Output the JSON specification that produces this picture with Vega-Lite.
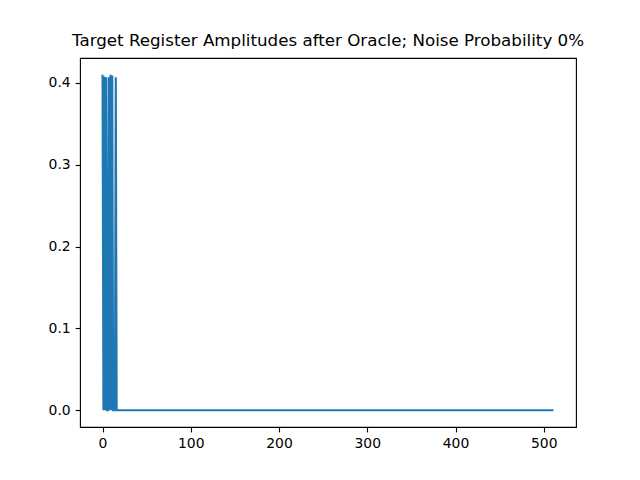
{
  "$schema": "https://vega.github.io/schema/vega-lite/v6.json",
  "width": 496,
  "height": 369,
  "autosize": "none",
  "padding": {"left": 80, "top": 58, "right": 64, "bottom": 53},
  "background": "white",
  "title": {
    "text": "Target Register Amplitudes after Oracle; Noise Probability 0%",
    "font": "DejaVu Sans",
    "fontSize": 16.7,
    "fontWeight": "normal",
    "color": "black",
    "anchor": "middle",
    "offset": 8
  },
  "data": {
    "values": [
      {"index": 0, "amplitude": 0.41},
      {"index": 1, "amplitude": 0.0},
      {"index": 2, "amplitude": 0.408},
      {"index": 3, "amplitude": 0.0},
      {"index": 4, "amplitude": 0.407},
      {"index": 5, "amplitude": 0.0},
      {"index": 6, "amplitude": 0.0},
      {"index": 7, "amplitude": 0.407},
      {"index": 8, "amplitude": 0.0},
      {"index": 9, "amplitude": 0.41},
      {"index": 10, "amplitude": 0.0},
      {"index": 11, "amplitude": 0.409},
      {"index": 12, "amplitude": 0.0},
      {"index": 13, "amplitude": 0.0},
      {"index": 14, "amplitude": 0.0},
      {"index": 15, "amplitude": 0.407},
      {"index": 16, "amplitude": 0.0},
      {"index": 17, "amplitude": 0.0},
      {"index": 18, "amplitude": 0.0},
      {"index": 19, "amplitude": 0.0},
      {"index": 20, "amplitude": 0.0},
      {"index": 511, "amplitude": 0.0}
    ]
  },
  "mark": {"type": "line", "color": "#1f77b4", "strokeWidth": 2.1, "clip": true},
  "encoding": {
    "x": {
      "field": "index",
      "type": "quantitative",
      "scale": {"domain": [-25.55, 536.55], "nice": false, "zero": false},
      "axis": {"values": [0, 100, 200, 300, 400, 500], "format": "d", "title": null}
    },
    "y": {
      "field": "amplitude",
      "type": "quantitative",
      "scale": {"domain": [-0.0205, 0.4305], "nice": false, "zero": false},
      "axis": {"values": [0, 0.1, 0.2, 0.3, 0.4], "format": ".1f", "title": null}
    }
  },
  "config": {
    "view": {"stroke": "black", "strokeWidth": 1.1},
    "axis": {
      "grid": false,
      "domain": false,
      "ticks": true,
      "tickColor": "black",
      "tickSize": 4.9,
      "tickWidth": 1.1,
      "labelFont": "DejaVu Sans",
      "labelFontSize": 13.9,
      "labelColor": "black",
      "labelPadding": 4.9
    }
  }
}
